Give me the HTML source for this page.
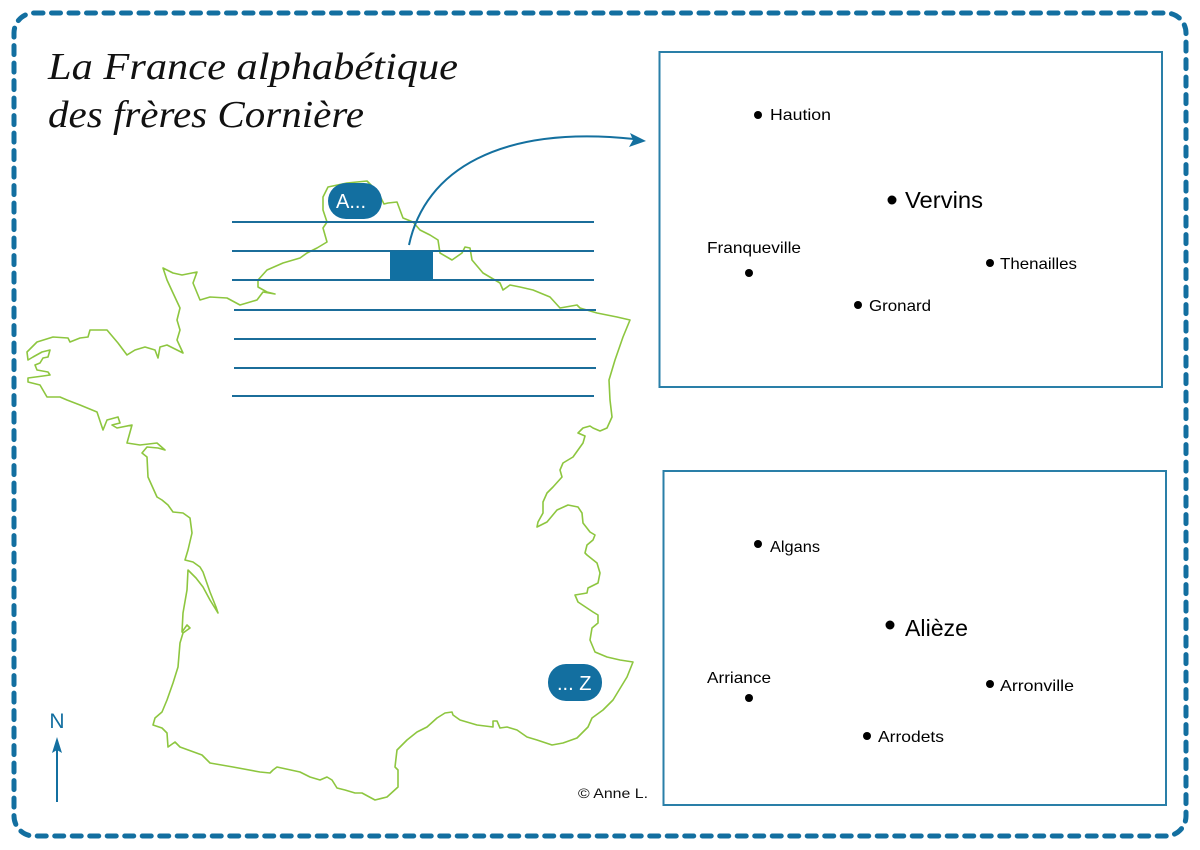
<!DOCTYPE html>
<html>
<head>
<meta charset="utf-8">
<style>
  html,body{margin:0;padding:0;background:#fff;}
  svg{display:block;}
</style>
</head>
<body>
<svg width="1200" height="850" viewBox="0 0 1200 850" xmlns="http://www.w3.org/2000/svg">
  <rect x="0" y="0" width="1200" height="850" fill="#ffffff"/>

  <!-- dashed outer border -->
  <rect x="14" y="13" width="1172" height="823" rx="20" ry="20" fill="none" stroke="#136fa0" stroke-width="5" stroke-dasharray="9 8.5" stroke-linecap="round"/>

  <!-- title -->
  <text x="48" y="79" font-family="Liberation Serif, serif" font-style="italic" font-size="38" fill="#111" textLength="410" lengthAdjust="spacingAndGlyphs">La France alphabétique</text>
  <text x="48" y="127" font-family="Liberation Serif, serif" font-style="italic" font-size="38" fill="#111" textLength="316" lengthAdjust="spacingAndGlyphs">des frères Cornière</text>

  <!-- France outline -->
  <path fill="none" stroke="#8dc63f" stroke-width="1.6" stroke-linejoin="round" d="
    M328,187 L347,183 L367,181 L378,192 L384,204 L388,203 L397,202 L400,210 L403,218 L413,222 L420,230 L430,235 L438,240 L440,253 L452,260 L462,253 L465,247 L470,248 L472,260 L483,273 L500,283 L503,290 L510,285 L520,287 L533,290 L550,297 L560,308 L577,305 L580,308 L597,313 L617,317 L630,320
    L623,337 L615,360 L609,380 L610,400 L612,417 L607,428 L600,431 L593,428 L590,426 L583,428 L578,433 L585,436 L583,443 L573,457 L563,463 L560,470 L562,477 L553,487 L547,493 L543,502 L543,513 L538,522 L537,527 L547,522 L557,510 L568,505 L578,507 L582,513 L583,523 L590,532 L595,535 L593,540 L587,545 L585,553 L587,555 L597,563 L600,573 L598,583 L588,588 L587,593 L575,595 L578,602 L593,612 L598,615 L598,623 L592,628 L590,640 L595,652 L607,657 L620,660 L633,662 L627,677 L613,700 L603,710 L592,718 L588,727 L577,738 L563,743 L552,745 L537,740 L527,737 L517,730 L507,727 L500,728 L497,721 L493,721 L493,727 L477,725 L460,720 L453,715 L452,712 L445,713 L437,718 L427,727 L417,732 L407,740 L397,750 L395,767 L398,770 L398,787 L387,797 L375,800 L362,793 L355,793 L345,790 L337,788 L332,780 L327,777 L320,780 L310,777 L300,772 L277,767 L273,770 L270,773 L260,772 L233,767 L210,763 L202,755 L180,747 L175,742 L168,747 L167,733 L162,728 L153,725 L155,718 L162,712 L167,700 L173,683 L178,667 L180,643 L183,633 L190,628 L187,625 L182,632 L183,613 L187,590 L188,570
    L196,578 L203,587 L210,600 L218,613 L216,607 L210,592 L203,572 L200,567 L193,562 L185,560 L188,550 L192,533 L190,518 L183,513 L173,512 L168,505 L162,500 L157,497 L148,477 L147,457 L142,453 L147,447 L158,448 L165,450 L157,443 L140,445 L127,443 L132,425 L117,428 L112,425 L120,423 L118,417 L107,420 L103,430 L97,412 L80,405 L67,400 L60,397 L47,397 L40,385 L28,382 L28,378 L43,376 L50,375 L48,372 L37,370 L35,365 L40,363 L43,358 L48,357 L50,350 L42,352 L33,357 L28,360 L27,352 L37,342 L53,337 L68,338 L70,342 L80,338 L88,337 L90,330 L107,330 L118,343 L127,355 L135,350 L145,347 L155,350 L158,358 L160,347 L167,345 L183,353 L177,340 L180,330 L177,320 L180,308 L173,293 L167,280 L163,268 L173,273 L182,275 L197,272 L193,283 L200,300 L210,297 L227,298 L240,305 L257,300 L263,292 L275,294 L267,292 L258,287 L258,280 L267,270 L283,263 L300,258 L307,253 L317,248 L327,242 L325,235 L323,228 L327,222 L323,210 L323,197 Z"/>

  <!-- horizontal lines -->
  <g stroke="#1b6d9a" stroke-width="2">
    <line x1="232" y1="222" x2="594" y2="222"/>
    <line x1="232" y1="251" x2="594" y2="251"/>
    <line x1="232" y1="280" x2="594" y2="280"/>
    <line x1="234" y1="310" x2="596" y2="310"/>
    <line x1="234" y1="339" x2="596" y2="339"/>
    <line x1="234" y1="368" x2="596" y2="368"/>
    <line x1="232" y1="396" x2="594" y2="396"/>
  </g>

  <!-- highlighted square -->
  <rect x="390" y="251" width="43" height="29" fill="#1170a2"/>

  <!-- curved arrow -->
  <path d="M409,245 C425,170 500,125 634,139" fill="none" stroke="#14709f" stroke-width="2"/>
  <polygon points="646,141 630,133 633,140 629,147" fill="#14709f"/>

  <!-- A... pill -->
  <rect x="328" y="183" width="54" height="36" rx="18" ry="18" fill="#136fa0"/>
  <text x="336" y="208" font-family="Liberation Sans, sans-serif" font-size="20" fill="#ffffff">A...</text>

  <!-- ... Z pill -->
  <rect x="548" y="664" width="54" height="37" rx="18" ry="18" fill="#136fa0"/>
  <text x="557" y="690" font-family="Liberation Sans, sans-serif" font-size="20" fill="#ffffff">... Z</text>

  <!-- north arrow -->
  <text x="57" y="728" text-anchor="middle" font-family="Liberation Sans, sans-serif" font-size="21" fill="#136fa0">N</text>
  <line x1="57" y1="802" x2="57" y2="748" stroke="#136fa0" stroke-width="2"/>
  <polygon points="57,737 52,753 57,750 62,753" fill="#136fa0"/>

  <!-- copyright -->
  <text x="578" y="798" font-family="Liberation Sans, sans-serif" font-size="14" fill="#111" textLength="70" lengthAdjust="spacingAndGlyphs">© Anne L.</text>

  <!-- box 1 -->
  <rect x="659.5" y="52" width="502.5" height="335" fill="none" stroke="#2a7fa8" stroke-width="2"/>
  <g fill="#000" font-family="Liberation Sans, sans-serif">
    <circle cx="758" cy="115" r="4"/>
    <text x="770" y="120" font-size="16" textLength="61" lengthAdjust="spacingAndGlyphs">Haution</text>
    <circle cx="892" cy="200" r="4.5"/>
    <text x="905" y="208" font-size="23" textLength="78" lengthAdjust="spacingAndGlyphs">Vervins</text>
    <text x="707" y="253" font-size="16" textLength="94" lengthAdjust="spacingAndGlyphs">Franqueville</text>
    <circle cx="749" cy="273" r="4"/>
    <circle cx="990" cy="263" r="4"/>
    <text x="1000" y="269" font-size="16" textLength="77" lengthAdjust="spacingAndGlyphs">Thenailles</text>
    <circle cx="858" cy="305" r="4"/>
    <text x="869" y="311" font-size="16" textLength="62" lengthAdjust="spacingAndGlyphs">Gronard</text>
  </g>

  <!-- box 2 -->
  <rect x="663.5" y="471" width="502.5" height="334" fill="none" stroke="#2a7fa8" stroke-width="2"/>
  <g fill="#000" font-family="Liberation Sans, sans-serif">
    <circle cx="758" cy="544" r="4"/>
    <text x="770" y="552" font-size="16" textLength="50" lengthAdjust="spacingAndGlyphs">Algans</text>
    <circle cx="890" cy="625" r="4.5"/>
    <text x="905" y="636" font-size="23" textLength="63" lengthAdjust="spacingAndGlyphs">Alièze</text>
    <text x="707" y="683" font-size="16" textLength="64" lengthAdjust="spacingAndGlyphs">Arriance</text>
    <circle cx="749" cy="698" r="4"/>
    <circle cx="990" cy="684" r="4"/>
    <text x="1000" y="691" font-size="16" textLength="74" lengthAdjust="spacingAndGlyphs">Arronville</text>
    <circle cx="867" cy="736" r="4"/>
    <text x="878" y="742" font-size="16" textLength="66" lengthAdjust="spacingAndGlyphs">Arrodets</text>
  </g>
</svg>
</body>
</html>
